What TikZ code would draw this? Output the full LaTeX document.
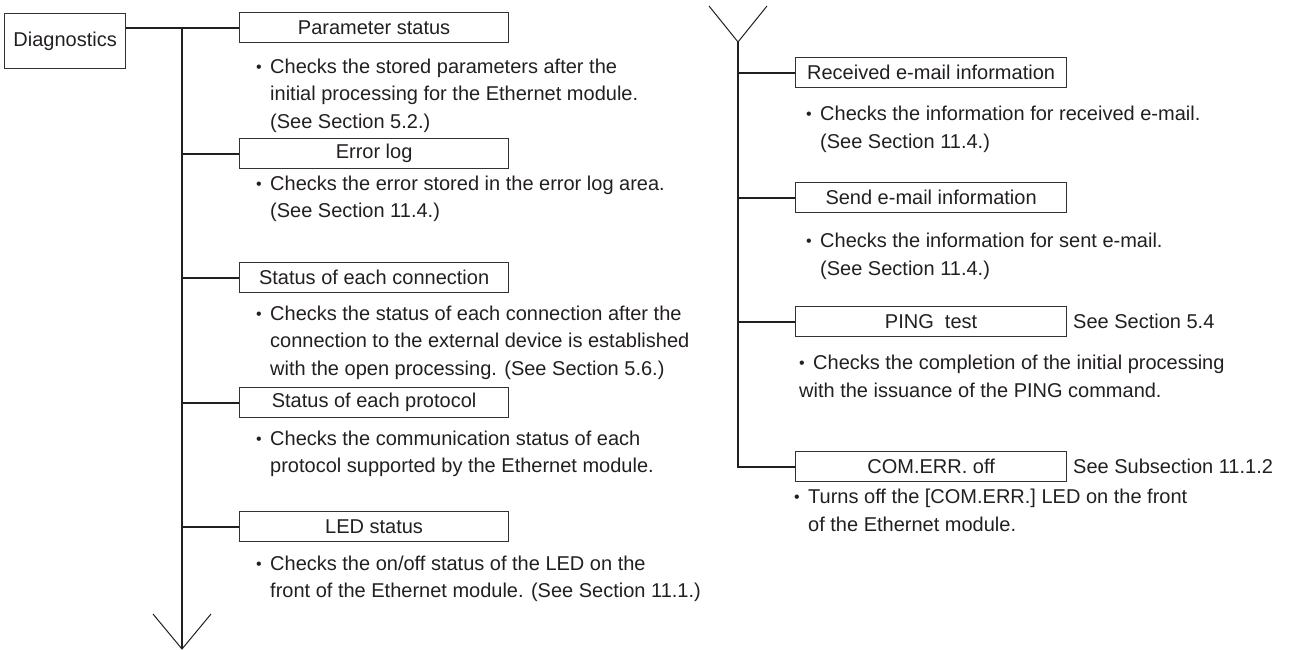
\documentclass[tikz,border=0pt]{standalone}
\usepackage{fontspec}
\setmainfont{Liberation Sans}
\definecolor{ink}{RGB}{35,31,32}
\definecolor{boxc}{RGB}{50,50,50}
\newcommand{\bul}{\makebox[14pt][l]{\raisebox{0.8pt}{\fontsize{16}{16}\selectfont •}}}
\newcommand{\ind}{\hspace*{14pt}}
\begin{document}
\begin{tikzpicture}[x=1pt,y=-1pt,
  every node/.style={font=\fontsize{20}{27.5}\selectfont, text=ink},
  box/.style={draw=boxc, line width=1.2pt, minimum width=269pt, minimum height=30pt, inner sep=0pt, anchor=north west},
  rbox/.style={box, minimum width=271pt},
  wire/.style={draw=ink, line width=2pt},
  vtip/.style={draw=ink, line width=1pt},
  desc/.style={align=left, anchor=north west, inner sep=0pt},
  note/.style={anchor=west, inner sep=0pt}]
\useasboundingbox (0,0) rectangle (1295,650);

% left column
\node[box, minimum width=121pt, minimum height=55pt] (diag) at (4,13) {Diagnostics};
\node[box] (param) at (239,12) {Parameter status};
\node[box] (err) at (239,138) {Error log};
\node[box] (conn) at (239,262) {Status of each connection};
\node[box] (proto) at (239,387) {Status of each protocol};
\node[box] (led) at (239,511) {LED status};

\node[desc] (dparam) at (256,58.4) {\bul Checks the stored parameters after the\\\ind initial processing for the Ethernet module.\\\ind (See Section 5.2.)};
\node[desc] (derr) at (256,175.4) {\bul Checks the error stored in the error log area.\\\ind (See Section 11.4.)};
\node[desc] (dconn) at (256,305.4) {\bul Checks the status of each connection after the\\\ind connection to the external device is established\\\ind with the open processing. (See Section 5.6.)};
\node[desc] (dproto) at (256,430.4) {\bul Checks the communication status of each\\\ind protocol supported by the Ethernet module.};
\node[desc] (dled) at (256,555.4) {\bul Checks the on/off status of the LED on the\\\ind front of the Ethernet module. (See Section 11.1.)};

\coordinate (ltop) at (182,27);
\coordinate (lbot) at (182,649);
\coordinate (lvl) at (153,614);
\coordinate (lvr) at (211,614);
\draw[wire] (diag.east |- param.west) -- (param.west);
\draw[wire] (ltop) -- (lbot);
\draw[wire] (ltop |- err.west) -- (err.west);
\draw[wire] (ltop |- conn.west) -- (conn.west);
\draw[wire] (ltop |- proto.west) -- (proto.west);
\draw[wire] (ltop |- led.west) -- (led.west);
\draw[vtip] (lvl) -- (lbot) -- (lvr);

% right column
\node[rbox] (rec) at (795,57) {Received e-mail information};
\node[rbox] (send) at (795,182) {Send e-mail information};
\node[rbox] (ping) at (795,306) {PING\ \ test};
\node[rbox] (com) at (795,451) {COM.ERR. off};

\node[note] (nping) at (1073,321) {See Section 5.4};
\node[note] (ncom) at (1073,466) {See Subsection 11.1.2};

\node[desc] (drec) at (806,106) {\bul Checks the information for received e-mail.\\\ind (See Section 11.4.)};
\node[desc] (dsend) at (806,233) {\bul Checks the information for sent e-mail.\\\ind (See Section 11.4.)};
\node[desc] (dping) at (799,355) {\bul Checks the completion of the initial processing\\with the issuance of the PING command.};
\node[desc] (dcom) at (794,489) {\bul Turns off the [COM.ERR.] LED on the front\\\ind of the Ethernet module.};

\coordinate (rtip) at (738,42);
\coordinate (rvl) at (709,6);
\coordinate (rvr) at (767,6);
\draw[vtip] (rvl) -- (rtip) -- (rvr);
\draw[wire] (rtip) -- (rtip |- com.west) -- (com.west);
\draw[wire] (rtip |- rec.west) -- (rec.west);
\draw[wire] (rtip |- send.west) -- (send.west);
\draw[wire] (rtip |- ping.west) -- (ping.west);
\end{tikzpicture}
\end{document}
